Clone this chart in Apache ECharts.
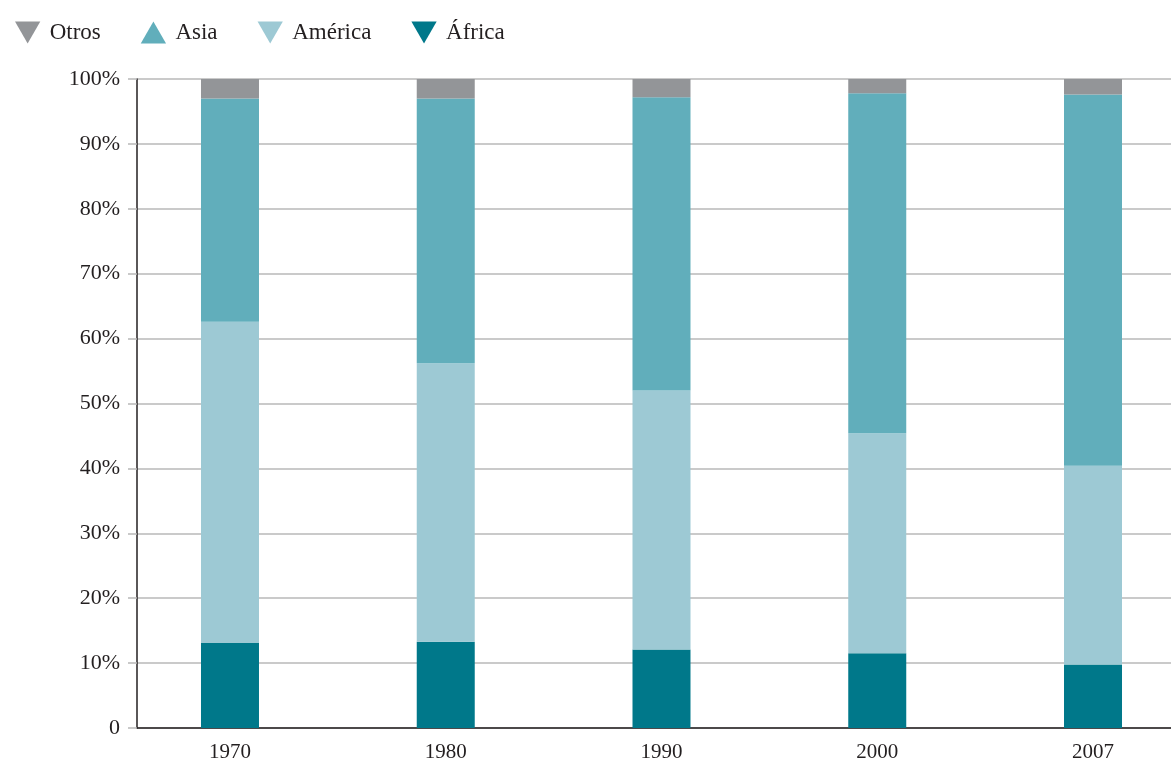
<!DOCTYPE html>
<html>
<head>
<meta charset="utf-8">
<style>
  html, body { margin: 0; padding: 0; background: #ffffff; }
  #chart { width: 1171px; height: 764px; }
</style>
<script src="https://cdn.jsdelivr.net/npm/echarts@6/dist/echarts.min.js"></script>
</head>
<body>
<div id="chart"></div>
<script>
// Share of each region (%), stacked bottom to top: África, América, Asia, Otros
const years   = ['1970', '1980', '1990', '2000', '2007'];
const africa  = [13.1, 13.3, 12.1, 11.5, 9.8];
const america = [49.5, 42.9, 39.9, 33.9, 30.6];
const asia    = [34.4, 40.8, 45.2, 52.4, 57.2];
const otros   = [3.0, 3.0, 2.8, 2.2, 2.4];

const FONT = '"Liberation Serif", "DejaVu Serif", serif';
const TEXT = '#231f20';
const GRID = '#b8b8b8';

const DOWN = 'path://M0,0L10,0L5,8.7Z';
const UP = 'path://M5,0L10,8.7L0,8.7Z';

const colors = {
  'África': '#00788a',
  'América': '#9dc9d4',
  'Asia': '#61aebb',
  'Otros': '#939598'
};

// Year slots sit on positions 0..4 of a numeric x axis, so the plot can
// start a little after the first slot's left edge.
const slots = years.map(function (_, i) { return i; });

// Rows are [share, slot]: the share column comes first so it is the one stacked.
function barSeries(name, values) {
  return {
    name: name,
    type: 'bar',
    stack: 'total',
    barWidth: 58,
    dimensions: ['share', 'slot'],
    encode: { x: 'slot', y: 'share' },
    data: values.map(function (v, i) { return [v, slots[i]]; }),
    itemStyle: { color: colors[name] },
    emphasis: { disabled: true }
  };
}

const chart = echarts.init(document.getElementById('chart'), null, { renderer: 'canvas' });

chart.setOption({
  animation: false,
  legend: {
    left: 10,
    top: 16,
    itemWidth: 26,
    itemHeight: 22,
    itemGap: 40,
    selectedMode: false,
    textStyle: { fontFamily: FONT, fontSize: 23, color: TEXT, padding: [0, 0, 0, 4] },
    data: [
      { name: 'Otros', icon: DOWN },
      { name: 'Asia', icon: UP },
      { name: 'América', icon: DOWN },
      { name: 'África', icon: DOWN }
    ]
  },
  grid: {
    left: 137,
    top: 79,
    right: 0,
    bottom: 36,
    containLabel: false
  },
  xAxis: {
    type: 'value',
    min: -0.431,
    max: 4.3615,
    axisLine: { show: true, onZero: false, lineStyle: { color: TEXT, width: 1.5 } },
    axisTick: { show: false },
    splitLine: { show: false },
    axisLabel: {
      customValues: slots,
      fontFamily: FONT,
      fontSize: 21,
      color: TEXT,
      margin: 14,
      formatter: function (v) { return years[Math.round(v)]; }
    }
  },
  yAxis: {
    type: 'value',
    min: 0,
    max: 100,
    interval: 10,
    axisLine: { show: true, onZero: false, lineStyle: { color: TEXT, width: 1.5 } },
    axisTick: { show: true, length: 9, lineStyle: { color: GRID, width: 1.5 } },
    splitLine: { show: true, lineStyle: { color: GRID, width: 1.5 } },
    axisLabel: {
      fontFamily: FONT,
      fontSize: 22,
      color: TEXT,
      margin: 17,
      formatter: function (v) { return v === 0 ? '0' : v + '%'; }
    }
  },
  series: [
    barSeries('África', africa),
    barSeries('América', america),
    barSeries('Asia', asia),
    barSeries('Otros', otros)
  ]
});
</script>
</body>
</html>
